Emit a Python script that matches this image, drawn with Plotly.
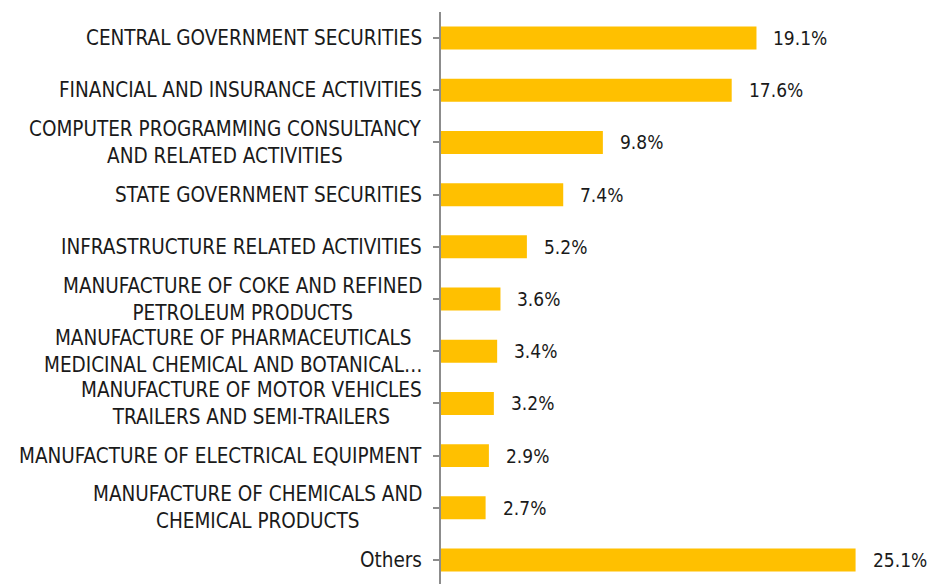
import plotly.graph_objects as go

categories = [
    "CENTRAL GOVERNMENT SECURITIES",
    "FINANCIAL AND INSURANCE ACTIVITIES",
    "COMPUTER PROGRAMMING CONSULTANCY<br>AND RELATED ACTIVITIES",
    "STATE GOVERNMENT SECURITIES",
    "INFRASTRUCTURE RELATED ACTIVITIES",
    "MANUFACTURE OF COKE AND REFINED<br>PETROLEUM PRODUCTS",
    "MANUFACTURE OF PHARMACEUTICALS<br>MEDICINAL CHEMICAL AND BOTANICAL…",
    "MANUFACTURE OF MOTOR VEHICLES<br>TRAILERS AND SEMI-TRAILERS",
    "MANUFACTURE OF ELECTRICAL EQUIPMENT",
    "MANUFACTURE OF CHEMICALS AND<br>CHEMICAL PRODUCTS",
    "Others",
]
values = [19.1, 17.6, 9.8, 7.4, 5.2, 3.6, 3.4, 3.2, 2.9, 2.7, 25.1]
value_labels = [f"{v:.1f}%" for v in values]

FONT = "DejaVu Sans Condensed, DejaVu Sans"
TXT = "#1a1a1a"
BAR = "#FFC000"
AX = "#8c8c8c"

fig = go.Figure()
fig.add_trace(go.Bar(
    x=values, y=list(range(len(categories))), orientation="h",
    marker=dict(color=BAR, line=dict(width=0)),
    width=0.44, hoverinfo="skip",
))

annotations = []
for i, (c, v, lab) in enumerate(zip(categories, values, value_labels)):
    annotations.append(dict(
        x=0, xref="paper", y=i, yref="y", text=c, showarrow=False,
        xanchor="right", yanchor="middle", align="center", xshift=-17,
        font=dict(family=FONT, size=20.5, color=TXT),
    ))
    annotations.append(dict(
        x=v, xref="x", y=i, yref="y", text=lab, showarrow=False,
        xanchor="left", yanchor="middle", xshift=15,
        font=dict(family=FONT, size=19, color=TXT),
    ))

fig.update_layout(
    width=928, height=584,
    margin=dict(l=441, r=8, t=12, b=0),
    paper_bgcolor="white", plot_bgcolor="white",
    showlegend=False,
    annotations=annotations,
    xaxis=dict(range=[0, 29], visible=False, fixedrange=True),
    yaxis=dict(
        range=[10.46, -0.5], tickmode="array",
        tickvals=list(range(len(categories))),
        showticklabels=False, tickson="boundaries",
        ticks="outside", ticklen=6, tickwidth=2, tickcolor=AX,
        showline=True, linecolor=AX, linewidth=2,
        showgrid=False, zeroline=False, fixedrange=True,
    ),
)

fig.write_html(
    "out.html",
    config={"displayModeBar": False},
    post_script="document.body.style.margin='0';document.body.style.overflow='hidden';",
)
